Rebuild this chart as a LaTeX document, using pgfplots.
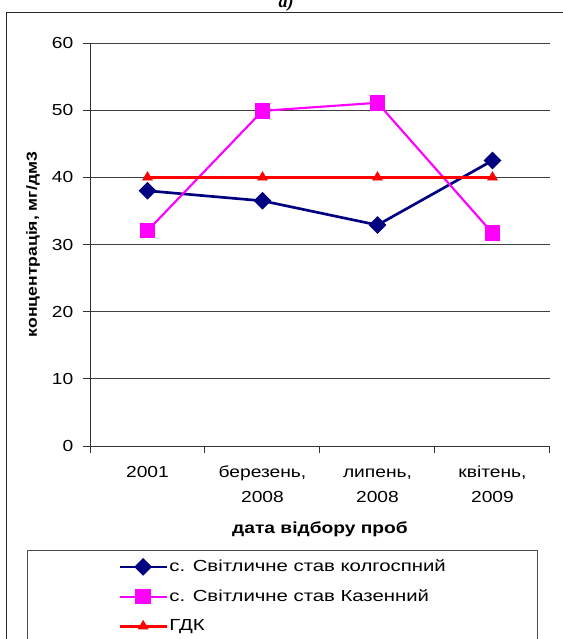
\documentclass[border=0pt]{standalone}
\usepackage{fontspec}
\setmainfont{Liberation Sans}[FakeStretch=1.2]
\newfontfamily\legfont{Liberation Sans}[FakeStretch=1.27]
\newfontfamily\titlefont{Liberation Serif}
\usepackage{pgfplots}
\pgfplotsset{compat=1.18}
\definecolor{navyc}{RGB}{0,0,128}
\definecolor{magc}{RGB}{255,0,255}
\definecolor{redc}{RGB}{255,0,0}
\begin{document}
\begin{tikzpicture}
% outer frame and legend box (extend beyond the page edges)
\draw[line width=0.75pt, black!85] (4.875pt,469.875pt) rectangle (440pt,-15pt);
\draw[line width=0.75pt, black!70] (20.25pt,66pt) rectangle (402.75pt,-15pt);
\node[anchor=base, font=\titlefont\bfseries\itshape\fontsize{13.5}{16}\selectfont] at (214.5pt,473.25pt) {а)};
\begin{axis}[
  at={(67.5pt,144.75pt)}, anchor=south west,
  scale only axis, width=345pt, height=302.25pt,
  xmin=-0.5, xmax=3.5, ymin=0, ymax=60,
  axis x line=bottom, axis y line=left,
  axis line style={-, black!80, line width=0.75pt},
  ytick={0,10,20,30,40,50,60},
  ymajorgrids, grid style={black!75, line width=0.75pt},
  xtick={-0.5,0.5,1.5,2.5,3.5}, xticklabels={},
  extra x ticks={0,1,2,3},
  extra x tick labels={\strut 2001,{\strut березень,\\\strut 2008},{\strut липень,\\\strut 2008},{\strut квітень,\\\strut 2009}},
  extra x tick style={major tick length=0pt, grid=none},
  tick align=outside, major tick length=5.25pt,
  tick style={black!80, line width=0.75pt},
  /pgf/number format/assume math mode=true,
  yticklabel style={font=\fontsize{12}{14}\selectfont, xshift=-3.75pt},
  xticklabel style={align=center, font=\fontsize{12}{18.5}\selectfont, yshift=-7.5pt},
  ylabel={концентрація, мг/дм3},
  xlabel={дата відбору проб},
  ylabel style={font=\bfseries\fontsize{11}{13}\selectfont, at={(axis description cs:-0.124,0.5)}, anchor=center},
  xlabel style={font=\bfseries\fontsize{12}{14}\selectfont, at={(axis description cs:0.5,-0.206)}, anchor=center},
  legend style={at={(axis description cs:0.0609,-0.2754)}, anchor=north west, draw=none, fill=none, inner sep=0pt, row sep=8pt, font=\legfont\fontsize{12}{14}\selectfont, nodes={inner xsep=1pt}},
  legend cell align=left,
  legend image code/.code={\draw[mark repeat=2,mark phase=2] plot coordinates {(0pt,0pt)(17.5pt,0pt)(35pt,0pt)};},
]
\addplot[color=navyc, line width=2pt, mark=square*, mark size=3.7pt, mark options={rotate=45, solid, fill=navyc}]
  coordinates {(0,38.0) (1,36.5) (2,32.9) (3,42.5)};
\addlegendentry{с. Світличне став колгоспний}
\addplot[color=magc, line width=1.6pt, mark=square*, mark size=5pt, mark options={solid, fill=magc}]
  coordinates {(0,32.05) (1,49.9) (2,51.1) (3,31.7)};
\addlegendentry{с. Світличне став Казенний}
\addplot[color=redc, line width=2.4pt, mark=triangle*, mark size=4.2pt, mark options={solid, fill=redc, line width=0.5pt}]
  coordinates {(0,40) (1,40) (2,40) (3,40)};
\addlegendentry{ГДК}
\end{axis}
\pgfresetboundingbox
\path[use as bounding box] (0pt,0pt) rectangle (421.5pt,479.25pt);
\end{tikzpicture}
\end{document}
